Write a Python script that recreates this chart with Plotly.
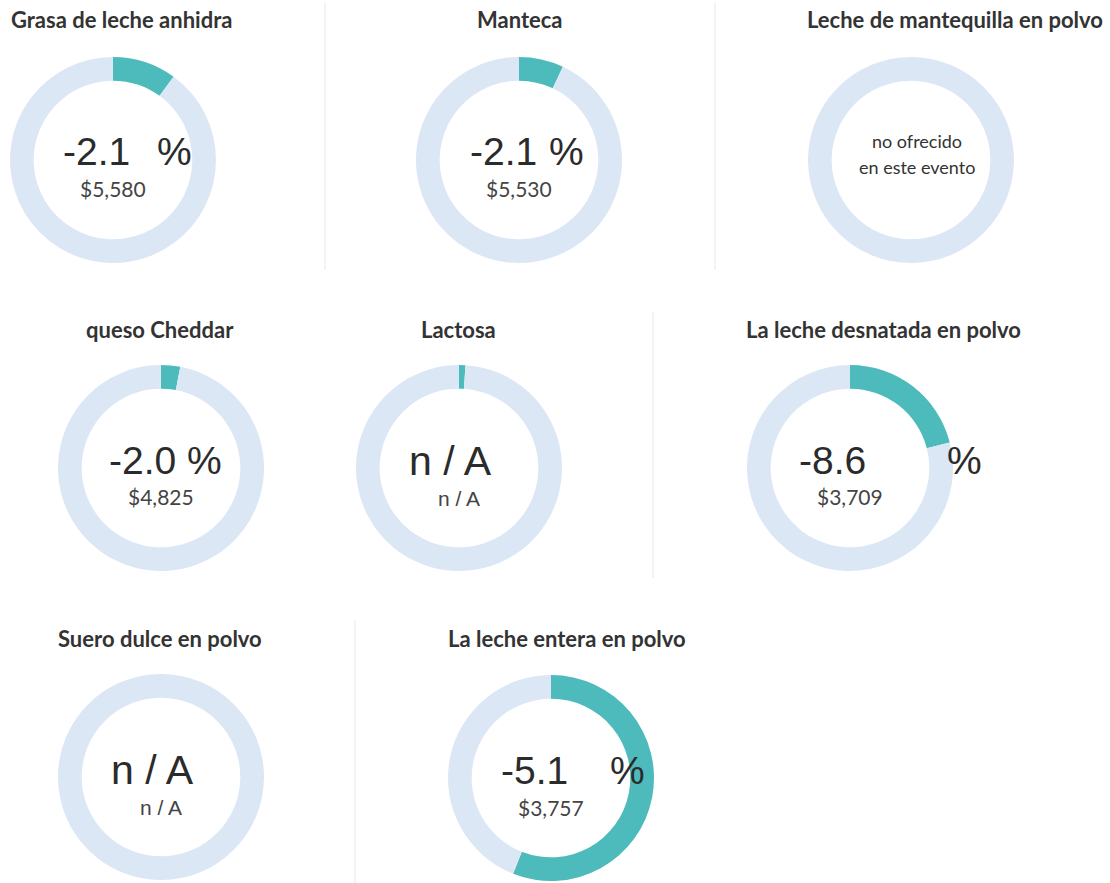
import plotly.graph_objects as go

W, H = 1110, 883

# ---- data ----
products = ["Grasa de leche anhidra", "Manteca", "Leche de mantequilla en polvo",
            "queso Cheddar", "Lactosa", "La leche desnatada en polvo",
            "Suero dulce en polvo", "La leche entera en polvo"]
fill_share = [0.10, 0.07, 0.0, 0.03, 0.01, 0.21, 0.0, 0.56]
change_text = ["-2.1", "-2.1", None, "-2.0", "n / A", "-8.6", "n / A", "-5.1"]
has_pct = [True, True, False, True, False, True, False, True]
price_text = ["$5,580", "$5,530", None, "$4,825", "n / A", "$3,709", "n / A", "$3,757"]
not_offered_text = ["no ofrecido", "en este evento"]

# ---- layout (pixel positions) ----
centers = [(113, 160), (519, 160), (911, 160),
           (161, 468), (459, 468), (850, 468),
           (161, 777), (551, 778)]
R = 103
title_pos = [(121, 20), (520, 20), (955, 20),
             (160, 329), (458, 329), (883, 329),
             (160, 638), (567, 638)]
num_left = [61, 468, None, 107, None, 797, None, 499]
pct_left = [155, 547, None, 185, None, 945, None, 608]
separators = [(325, 3, 270), (715, 3, 270), (653, 312, 578), (355, 620, 883)]

TEAL = "#4DBBBC"
LIGHT = "#DCE7F5"

def px(x):
    return x / W

def py(y):
    return 1 - y / H

fig = go.Figure()
annotations = []
for i, name in enumerate(products):
    cx, cy = centers[i]
    fig.add_trace(go.Pie(
        values=[fill_share[i], 1 - fill_share[i]],
        labels=["a", "b"],
        sort=False, direction="clockwise", rotation=0,
        hole=0.77,
        marker=dict(colors=[TEAL, LIGHT], line=dict(width=0)),
        textinfo="none", hoverinfo="skip", showlegend=False,
        domain=dict(x=[px(cx - R), px(cx + R)], y=[py(cy + R), py(cy - R)]),
    ))
    tx, ty = title_pos[i]
    annotations.append(dict(x=px(tx), y=py(ty), text=f"<b>{name}</b>", showarrow=False,
                            xanchor="center", yanchor="middle",
                            font=dict(family="Lato", size=22, color="#333333")))
    if change_text[i] is None:
        annotations.append(dict(x=px(cx + 6), y=py(cy - 19), text=not_offered_text[0], showarrow=False,
                                xanchor="center", yanchor="middle",
                                font=dict(family="Lato", size=18, color="#333333")))
        annotations.append(dict(x=px(cx + 6), y=py(cy + 7), text=not_offered_text[1], showarrow=False,
                                xanchor="center", yanchor="middle",
                                font=dict(family="Lato", size=18, color="#333333")))
        continue
    if has_pct[i]:
        annotations.append(dict(x=px(num_left[i]), y=py(cy - 8), text=change_text[i], showarrow=False,
                                xanchor="left", yanchor="middle",
                                font=dict(family="Liberation Sans", size=39, color="#2b2b2b")))
        annotations.append(dict(x=px(pct_left[i]), y=py(cy - 8), text="%", showarrow=False,
                                xanchor="left", yanchor="middle",
                                font=dict(family="Liberation Sans", size=39, color="#2b2b2b")))
        annotations.append(dict(x=px(cx), y=py(cy + 29), text=price_text[i], showarrow=False,
                                xanchor="center", yanchor="middle",
                                font=dict(family="Lato", size=21, color="#444444")))
    else:
        annotations.append(dict(x=px(cx - 9), y=py(cy - 7), text=change_text[i], showarrow=False,
                                xanchor="center", yanchor="middle",
                                font=dict(family="Liberation Sans", size=41, color="#2b2b2b")))
        annotations.append(dict(x=px(cx), y=py(cy + 30), text=price_text[i], showarrow=False,
                                xanchor="center", yanchor="middle",
                                font=dict(family="Liberation Sans", size=21, color="#444444")))

shapes = [dict(type="line", xref="paper", yref="paper", x0=px(x), x1=px(x), y0=py(y0), y1=py(y1),
               line=dict(color="#EFEFEF", width=1.5)) for x, y0, y1 in separators]

fig.update_layout(width=W, height=H, margin=dict(l=0, r=0, t=0, b=0),
                  paper_bgcolor="white", plot_bgcolor="white",
                  annotations=annotations, shapes=shapes)
fig.write_html("out.html", config={"displayModeBar": False},
               post_script="document.body.style.margin='0';document.body.style.overflow='hidden';")
